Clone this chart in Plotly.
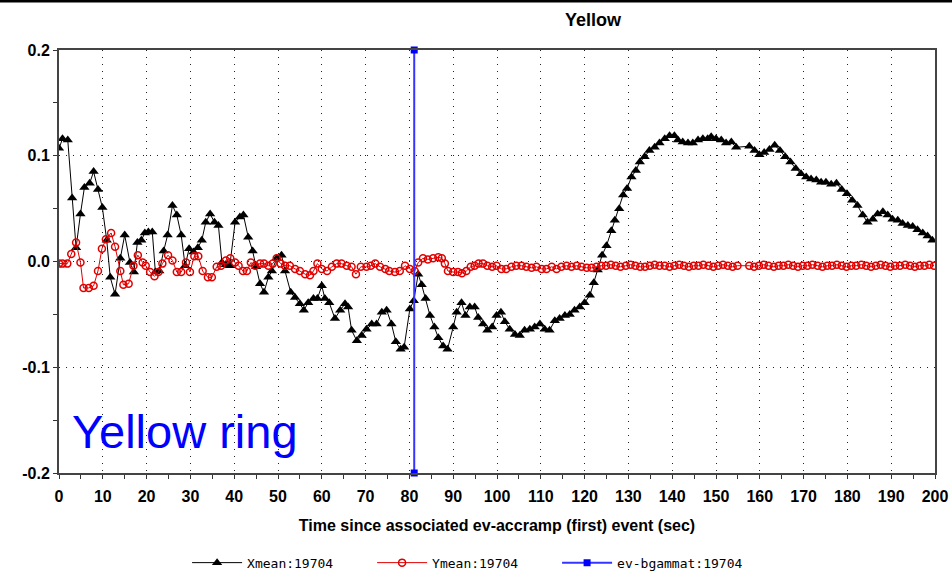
import plotly.graph_objects as go

# ---------------- data ----------------
XMEAN_POINTS = [
    (0.0, 0.107), (0.8, 0.116), (2.0, 0.115), (3.0, 0.060), (3.9, 0.013), (4.9, 0.045),
    (5.8, 0.070), (7.0, 0.074), (7.9, 0.085), (8.9, 0.068), (9.9, 0.051), (10.9, 0.020),
    (11.7, -0.015), (12.8, -0.031), (14.0, 0.003), (15.0, 0.025), (16.2, -0.001), (17.1, -0.010),
    (17.9, 0.018), (18.8, 0.020), (19.6, 0.027), (20.4, 0.028), (21.3, 0.028), (22.0, -0.010),
    (22.9, -0.009), (23.9, 0.010), (24.8, 0.025), (25.9, 0.053), (26.9, 0.044), (27.9, 0.025),
    (28.8, -0.004), (29.7, 0.012), (30.7, 0.009), (31.7, 0.013), (32.6, 0.020), (33.5, 0.037),
    (34.5, 0.045), (35.5, 0.037), (36.4, 0.034), (37.2, -0.001), (38.1, -0.003), (39.0, -0.004),
    (40.2, 0.037), (41.3, 0.042), (42.1, 0.044), (43.2, 0.023), (44.2, 0.010), (45.0, -0.005),
    (45.9, -0.021), (46.8, -0.029), (47.8, -0.015), (48.6, -0.009), (49.7, 0.003), (50.8, 0.006),
    (51.6, -0.009), (52.9, -0.029), (53.9, -0.034), (55.0, -0.040), (55.9, -0.046), (56.9, -0.039),
    (58.1, -0.035), (59.0, -0.035), (60.0, -0.023), (60.7, -0.035), (61.7, -0.039), (63.0, -0.054),
    (64.2, -0.046), (65.3, -0.040), (66.0, -0.043), (66.8, -0.065), (68.0, -0.075), (69.1, -0.070),
    (70.2, -0.064), (71.4, -0.059), (72.5, -0.059), (73.7, -0.048), (74.8, -0.046), (75.9, -0.059),
    (76.9, -0.076), (78.0, -0.083), (78.8, -0.081), (80.1, -0.045), (81.0, -0.037), (82.0, -0.012),
    (82.8, -0.022), (83.7, -0.035), (84.7, -0.051), (85.7, -0.062), (86.6, -0.072), (87.7, -0.080),
    (88.7, -0.083), (90.0, -0.062), (90.8, -0.048), (91.9, -0.039), (92.8, -0.051), (93.8, -0.043),
    (94.9, -0.043), (95.7, -0.053), (96.8, -0.059), (97.8, -0.065), (98.9, -0.062), (99.9, -0.051),
    (100.9, -0.048), (101.8, -0.057), (102.9, -0.064), (104.1, -0.069), (105.2, -0.070), (106.3, -0.065),
    (107.5, -0.064), (108.6, -0.062), (109.8, -0.059), (110.9, -0.064), (112.0, -0.065), (113.2, -0.056),
    (114.3, -0.054), (115.5, -0.051), (116.6, -0.050), (117.7, -0.046), (118.9, -0.043), (120.0, -0.039),
    (121.2, -0.032), (122.1, -0.020), (123.0, -0.008), (124.0, 0.006), (125.0, 0.015), (126.1, 0.029),
    (126.9, 0.039), (127.9, 0.050), (128.8, 0.063), (129.7, 0.069), (130.7, 0.080), (131.7, 0.086),
    (132.6, 0.094), (133.7, 0.099), (134.8, 0.105), (136.0, 0.108), (137.1, 0.112), (138.3, 0.116),
    (139.4, 0.119), (140.5, 0.119), (141.3, 0.115), (142.4, 0.113), (143.6, 0.112), (144.7, 0.112),
    (145.9, 0.115), (147.0, 0.116), (148.1, 0.116), (148.9, 0.118), (150.0, 0.116), (151.2, 0.115),
    (152.3, 0.112), (153.5, 0.113), (154.6, 0.108), (157.6, 0.109), (158.8, 0.105), (159.9, 0.101),
    (161.0, 0.103), (162.2, 0.106), (163.4, 0.110), (164.6, 0.105), (165.8, 0.099), (167.0, 0.094),
    (168.2, 0.088), (169.4, 0.083), (170.6, 0.080), (171.7, 0.078), (172.9, 0.077), (174.0, 0.075),
    (175.1, 0.075), (176.3, 0.073), (177.5, 0.074), (178.7, 0.068), (179.9, 0.064), (181.1, 0.058),
    (182.3, 0.053), (183.5, 0.044), (184.6, 0.037), (185.8, 0.040), (186.9, 0.045), (188.1, 0.047),
    (189.2, 0.044), (190.3, 0.040), (191.5, 0.039), (192.6, 0.036), (193.8, 0.034), (194.9, 0.033),
    (196.0, 0.030), (197.2, 0.027), (198.3, 0.024), (199.4, 0.020),
]

YMEAN_POINTS = [
    (0.0, -0.002), (0.8, -0.002), (1.9, -0.002), (2.8, 0.007), (3.9, 0.018), (4.9, -0.001),
    (5.6, -0.025), (6.8, -0.025), (7.9, -0.023), (8.9, -0.009), (9.8, 0.012), (10.7, 0.021),
    (11.9, 0.027), (12.8, 0.014), (14.0, -0.009), (14.7, -0.022), (15.9, -0.021), (17.0, -0.004),
    (18.0, 0.006), (19.1, -0.001), (19.8, -0.004), (20.8, -0.010), (21.8, -0.014), (22.7, -0.010),
    (23.6, -0.002), (24.9, 0.006), (25.9, 0.001), (26.9, -0.010), (27.9, -0.010), (29.0, -0.001),
    (29.9, -0.010), (30.9, 0.005), (31.8, 0.005), (32.8, -0.009), (34.0, -0.015), (34.9, -0.015),
    (36.0, -0.005), (37.0, -0.004), (38.1, 0.001), (39.1, 0.003), (40.2, -0.001), (41.0, -0.004),
    (42.0, -0.009), (42.9, -0.009), (43.8, -0.001), (44.8, -0.004), (45.9, -0.002), (46.8, -0.002),
    (47.8, -0.004), (48.8, -0.002), (49.7, 0.003), (50.6, -0.002), (51.6, -0.004), (52.7, -0.004),
    (53.9, -0.007), (55.0, -0.009), (56.2, -0.012), (57.3, -0.013), (58.1, -0.009), (59.0, -0.002),
    (60.0, -0.007), (61.2, -0.009), (62.3, -0.005), (63.4, -0.002), (64.5, -0.002), (65.7, -0.004),
    (66.8, -0.005), (67.8, -0.012), (68.9, -0.005), (70.2, -0.005), (71.2, -0.004), (72.2, -0.002),
    (73.3, -0.005), (74.5, -0.007), (75.4, -0.009), (76.7, -0.010), (77.8, -0.009), (79.0, -0.004),
    (80.1, -0.007), (81.2, -0.009), (82.0, -0.001), (83.1, 0.003), (84.2, 0.002), (85.4, 0.003),
    (86.6, 0.004), (87.4, 0.003), (88.1, -0.002), (88.8, -0.009), (90.0, -0.010), (91.1, -0.010),
    (92.0, -0.011), (93.0, -0.009), (94.0, -0.005), (94.9, -0.004), (95.8, -0.002), (96.8, -0.002),
    (97.8, -0.004), (98.9, -0.005), (99.9, -0.004), (101.0, -0.007), (102.1, -0.007), (103.3, -0.005),
    (104.4, -0.004), (105.6, -0.004), (106.7, -0.005), (107.9, -0.006), (109.0, -0.005), (110.2, -0.007),
    (111.3, -0.007), (112.5, -0.005), (113.6, -0.007), (114.7, -0.005), (115.9, -0.004), (117.0, -0.005),
    (118.2, -0.004), (119.3, -0.005), (120.5, -0.006), (121.6, -0.006), (122.7, -0.005), (123.8, -0.004),
    (124.9, -0.004), (126.0, -0.003), (127.1, -0.004), (128.2, -0.005), (129.4, -0.004), (130.5, -0.003),
    (131.6, -0.004), (132.7, -0.005), (133.8, -0.005), (134.9, -0.004), (136.0, -0.003), (137.1, -0.004),
    (138.3, -0.004), (139.4, -0.005), (140.5, -0.004), (141.6, -0.003), (142.7, -0.004), (143.8, -0.005),
    (144.9, -0.004), (146.0, -0.004), (147.1, -0.003), (148.3, -0.004), (149.4, -0.005), (150.5, -0.004),
    (151.6, -0.003), (152.7, -0.004), (153.8, -0.005), (154.9, -0.004), (157.6, -0.004), (158.7, -0.005),
    (159.8, -0.004), (160.9, -0.003), (162.0, -0.004), (163.2, -0.005), (164.3, -0.004), (165.4, -0.004),
    (166.5, -0.003), (167.6, -0.004), (168.7, -0.005), (169.8, -0.004), (170.9, -0.004), (172.0, -0.003),
    (173.2, -0.004), (174.3, -0.005), (175.4, -0.004), (176.5, -0.004), (177.6, -0.003), (178.7, -0.004),
    (179.8, -0.005), (180.9, -0.004), (182.0, -0.004), (183.2, -0.003), (184.3, -0.004), (185.4, -0.005),
    (186.5, -0.004), (187.6, -0.003), (188.7, -0.004), (189.8, -0.005), (190.9, -0.004), (192.0, -0.004),
    (193.2, -0.003), (194.3, -0.004), (195.4, -0.005), (196.5, -0.004), (197.6, -0.004), (198.7, -0.003),
    (199.8, -0.004),
]

BGAMMAT_T = [81.1, 81.1]
BGAMMAT_V = [0.2, -0.2]

SERIES_NAMES = ["Xmean:19704", "Ymean:19704", "ev-bgammat:19704"]
X_TICKS = list(range(0, 201, 10))
Y_TICKS = [-0.2, -0.1, 0.0, 0.1, 0.2]

TITLE = "Yellow"
X_TITLE = "Time since associated ev-accramp (first) event (sec)"
NOTE = "Yellow ring"

# ---------------- figure ----------------
xt, xv = zip(*XMEAN_POINTS)
yt, yv = zip(*YMEAN_POINTS)

fig = go.Figure()
fig.add_trace(go.Scatter(
    x=list(xt), y=list(xv), name=SERIES_NAMES[0], mode="lines+markers",
    line=dict(color="black", width=1),
    marker=dict(symbol="triangle-up", size=9, color="black"),
))
fig.add_trace(go.Scatter(
    x=list(yt), y=list(yv), name=SERIES_NAMES[1], mode="lines+markers",
    line=dict(color="#e00000", width=1),
    marker=dict(symbol="circle-open", size=7, color="#e00000", line=dict(width=1.5)),
))
fig.add_trace(go.Scatter(
    x=BGAMMAT_T, y=BGAMMAT_V, name=SERIES_NAMES[2], mode="lines+markers",
    line=dict(color="#3535ff", width=2),
    marker=dict(symbol="square", size=7, color="#0000ff"),
    cliponaxis=False,
))

FONT = "Liberation Sans, Arial, sans-serif"
tickfont = dict(family=FONT, size=16, color="black", weight="bold")
gridstyle = dict(showgrid=True, gridcolor="#222", gridwidth=1, griddash="1px,6px")

fig.update_layout(
    width=952, height=577,
    margin=dict(l=59, r=17, t=50, b=104, autoexpand=False),
    paper_bgcolor="white", plot_bgcolor="white",
    showlegend=True,
    legend=dict(
        orientation="h", x=0.463, xanchor="center", y=-0.212, yanchor="middle",
        font=dict(family="DejaVu Sans Mono, monospace", size=13, color="black"),
        itemwidth=50, entrywidth=120, entrywidthmode="pixels",
        bgcolor="rgba(0,0,0,0)", traceorder="normal",
    ),
    xaxis=dict(
        range=[0, 200], tickvals=X_TICKS, ticktext=[str(v) for v in X_TICKS],
        ticks="outside", ticklen=4, tickwidth=1, tickcolor="#333",
        minor=dict(dtick=5, ticks="outside", ticklen=4, tickcolor="#333", showgrid=False),
        showline=True, linecolor="#444", linewidth=2, mirror=True,
        tickfont=tickfont, zeroline=False, automargin=False, ticklabelstandoff=4,
        title=dict(text=X_TITLE, font=tickfont, standoff=16),
        **gridstyle,
    ),
    yaxis=dict(
        range=[-0.2, 0.2], tickvals=Y_TICKS, ticktext=[f"{v:.1f}" for v in Y_TICKS],
        ticks="outside", ticklen=4, tickwidth=1, tickcolor="#333",
        minor=dict(dtick=0.05, ticks="outside", ticklen=4, tickcolor="#333", showgrid=False),
        showline=True, linecolor="#444", linewidth=2, mirror=True,
        tickfont=tickfont, zeroline=False, automargin=False,
        **gridstyle,
    ),
    xaxis2=dict(
        overlaying="x", matches="x", anchor="y", side="bottom", range=[0, 200],
        tickvals=X_TICKS, showticklabels=False, ticks="inside", ticklen=4, tickcolor="#333",
        minor=dict(dtick=5, ticks="inside", ticklen=4, tickcolor="#333"),
        showgrid=False, showline=False, zeroline=False, automargin=False,
    ),
    yaxis2=dict(
        overlaying="y", matches="y", anchor="x", side="left", range=[-0.2, 0.2],
        tickvals=Y_TICKS, showticklabels=False, ticks="inside", ticklen=4, tickcolor="#333",
        minor=dict(dtick=0.05, ticks="inside", ticklen=4, tickcolor="#333"),
        showgrid=False, showline=False, zeroline=False, automargin=False,
    ),
    annotations=[
        dict(text=TITLE, xref="paper", yref="paper", x=0.61, y=1 + 30 / 423,
             xanchor="center", yanchor="middle", showarrow=False,
             font=dict(family=FONT, size=18, color="black", weight="bold")),
        dict(text=NOTE, xref="paper", yref="paper", x=0.012, y=0.098,
             xanchor="left", yanchor="middle", showarrow=False,
             font=dict(family=FONT, size=47, color="#0000ff")),
    ],
    shapes=[
        dict(type="line", xref="paper", yref="paper", x0=-0.08, x1=1.03,
             y0=1 + 49 / 423, y1=1 + 49 / 423, line=dict(color="black", width=3)),
    ],
)

fig.write_html("out.html")
